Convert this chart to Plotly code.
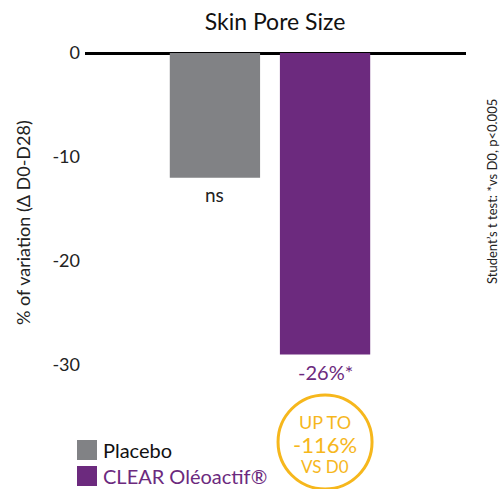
import plotly.graph_objects as go

categories = ["Placebo", "CLEAR Oléoactif®"]
values = [-12, -29]
labels = ["ns", "-26%*"]
colors = ["#818285", "#6c2a7e"]
label_colors = ["#222222", "#6c2a7e"]
yticks = [0, -10, -20, -30]
badge_lines = ["UP TO", "-116%", "VS D0"]

FONT = "Lato, 'Open Sans', sans-serif"
xs = list(range(len(categories)))

def ypaper(pix):
    return (365 - pix) / 312

def xpaper(pix):
    return (pix - 85) / 381

fig = go.Figure()
fig.add_trace(go.Bar(x=xs, y=values, marker_color=colors, width=0.82,
                     marker_line_width=0, showlegend=False))

for xi, v, lab, c, sz in zip(xs, values, labels, label_colors, [19, 20]):
    fig.add_annotation(x=xi, y=v, text=lab, showarrow=False, yanchor="top",
                       yshift=-3, font=dict(size=sz, color=c, family=FONT))

# highlight circle below CLEAR bar
gold = "#f6b71c"
fig.add_shape(type="circle", xref="x", yref="paper", xsizemode="pixel", ysizemode="pixel",
              xanchor=1, yanchor=ypaper(442), x0=-47, x1=47, y0=-47, y1=47,
              line=dict(color=gold, width=3))
for txt, pix, sz in zip(badge_lines, [422, 444, 466], [18, 22, 17]):
    fig.add_annotation(x=1, y=ypaper(pix), xref="x", yref="paper", showarrow=False,
                       xanchor="center", yanchor="middle", text=txt,
                       font=dict(size=sz, color=gold, family=FONT))

# legend
for i, (name, c, tc) in enumerate(zip(categories, colors, ["#111111", "#6c2a7e"])):
    ypix = 450 + 26 * i
    yp = ypaper(ypix)
    fig.add_shape(type="rect", xref="paper", yref="paper", xsizemode="pixel", ysizemode="pixel",
                  xanchor=xpaper(87), yanchor=yp, x0=-10, x1=10, y0=-10, y1=10,
                  fillcolor=c, line_width=0)
    fig.add_annotation(x=xpaper(101), y=yp, xref="paper", yref="paper", showarrow=False,
                       xanchor="left", yanchor="middle", text=name,
                       font=dict(size=20, color=tc, family=FONT))

# y axis title
fig.add_annotation(x=xpaper(23), y=ypaper(223), xref="paper", yref="paper",
                   showarrow=False, textangle=-90, xanchor="center", yanchor="middle",
                   text="% of variation (Δ D0-D28)",
                   font=dict(size=18, color="#222222", family=FONT))

fig.add_annotation(x=xpaper(492), y=ypaper(192), xref="paper", yref="paper",
                   showarrow=False, textangle=-90, xanchor="center", yanchor="middle",
                   text="Student’s t test: *vs D0, p<0.005",
                   font=dict(size=13, color="#222222", family=FONT))

fig.update_layout(
    width=504, height=489,
    margin=dict(l=85, r=38, t=53, b=124),
    plot_bgcolor="white", paper_bgcolor="white",
    title=dict(text="Skin Pore Size", x=275 / 504, xanchor="center", y=1 - 22 / 489,
               yanchor="middle", font=dict(size=23, color="#111111", family=FONT)),
    xaxis=dict(range=[-1.18, 2.28], showticklabels=False, showgrid=False,
               zeroline=False, showline=False, ticks=""),
    yaxis=dict(range=[-30, 0], tickvals=yticks, ticktext=[str(t) for t in yticks],
               showgrid=False, zeroline=True, zerolinecolor="black", zerolinewidth=2.5,
               showline=False, ticks="", ticklabelstandoff=4,
               tickfont=dict(size=18, color="#222222", family=FONT)),
    bargap=0.2,
)

fig.write_html("out.html")
